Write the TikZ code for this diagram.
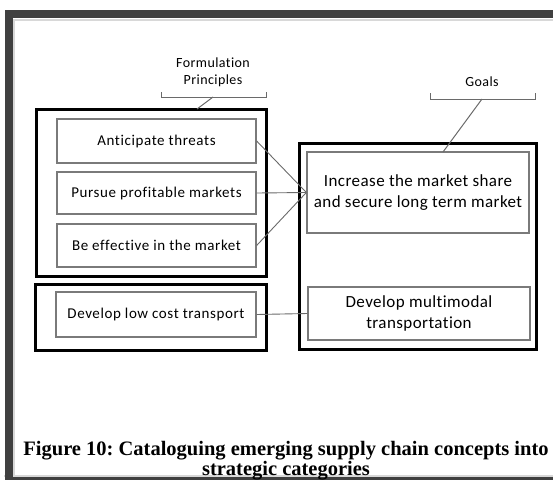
\documentclass[tikz,border=0pt]{standalone}
\usepackage{fontspec}
\setmainfont{Liberation Serif}
\newfontfamily\boxfont[LetterSpace=4,Ligatures=NoCommon]{Carlito}
\newfontfamily\goalfont[LetterSpace=2.5,Ligatures=NoCommon]{Carlito}
\newfontfamily\lblfont[LetterSpace=3,Ligatures=NoCommon]{Carlito}
\definecolor{framegray}{HTML}{404040}
\definecolor{halogray}{HTML}{D8D8D8}
\definecolor{boxgray}{HTML}{7A7A7A}
\definecolor{linegray}{HTML}{6A6A6A}
\tikzset{
  groupbox/.style={draw=black, line width=3pt, inner sep=0pt},
  itembox/.style={draw=boxgray, line width=1.3pt, inner sep=0pt, align=center,
    font=\boxfont\fontsize{15}{21}\selectfont},
  goalbox/.style={itembox, font=\goalfont\fontsize{17}{21}\selectfont},
  lbl/.style={align=center, inner sep=0pt, font=\lblfont\fontsize{14}{17}\selectfont},
  conn/.style={draw=linegray, line width=0.9pt},
  brack/.style={draw=linegray, line width=1pt},
}
\begin{document}
\begin{tikzpicture}[x=1pt,y=-1pt]
\useasboundingbox (0,0) rectangle (553,479);
% outer frame
\draw[halogray, line width=2pt] (14,480) -- (14,19.5) -- (560,19.5);
\draw[halogray, line width=1.5pt] (4,476) -- (560,476);
\draw[framegray, line width=8pt] (9,481) -- (9,14) -- (560,14);
\draw[framegray, line width=3pt] (5,478.5) -- (560,478.5);
% groups
\node[groupbox, minimum width=230pt, minimum height=167pt] (g1) at (151,192.5) {};
\node[groupbox, minimum width=231pt, minimum height=66pt] (g2) at (150.5,317) {};
\node[groupbox, minimum width=237pt, minimum height=206pt] (g3) at (417.5,246) {};
% items
\node[itembox, minimum width=199pt, minimum height=44pt] (b1) at (156.5,141) {Anticipate threats};
\node[itembox, minimum width=199pt, minimum height=42pt] (b2) at (156.5,193) {Pursue profitable markets};
\node[itembox, minimum width=199pt, minimum height=43pt] (b3) at (156.5,245.5) {Be effective in the market};
\node[itembox, minimum width=200pt, minimum height=45pt] (b4) at (156,314.5) {Develop low cost transport};
\node[goalbox, minimum width=222pt, minimum height=81pt] (t1) at (418,192.5) {Increase the market share\\and secure long term market};
\node[goalbox, minimum width=222pt, minimum height=53pt] (t2) at (419,313.5) {Develop multimodal\\transportation};
% connectors
\draw[conn] (b1.east) -- (t1.west);
\draw[conn] (b2.east) -- (t1.west);
\draw[conn] (b3.east) -- (t1.west);
\draw[conn] (b4.east) -- (t2.west);
% labels and brackets
\node[lbl] (fp) at (213,72) {Formulation\\Principles};
\node[lbl] (gl) at (482,82) {Goals};
\coordinate (fpL) at (161,92);
\coordinate (fpR) at (266,92);
\coordinate (fpM) at (213,97);
\coordinate (fpT) at (197,109);
\draw[brack] (fpL) -- (161,97) -- (266,97) -- (fpR);
\draw[brack] (fpM) -- (fpT);
\coordinate (glL) at (430,93);
\coordinate (glR) at (535,93);
\coordinate (glM) at (482,99);
\coordinate (glT) at (443,152);
\draw[brack] (glL) -- (430,99) -- (535,99) -- (glR);
\draw[brack] (glM) -- (glT);
% caption
\node[align=center, inner sep=0pt, font=\frenchspacing\bfseries\fontsize{20.5}{18}\selectfont] (cap) at (286,461)
  {Figure 10: Cataloguing emerging supply chain concepts into\\strategic categories};
\end{tikzpicture}
\end{document}
